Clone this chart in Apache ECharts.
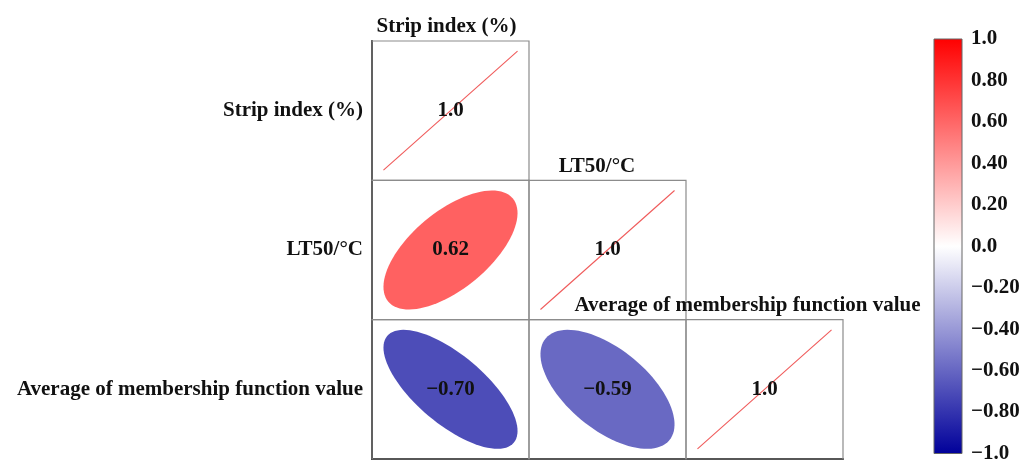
<!DOCTYPE html>
<html>
<head>
<meta charset="utf-8">
<script src="https://cdn.jsdelivr.net/npm/echarts@6/dist/echarts.min.js"></script>
<style>
html,body{margin:0;padding:0;background:#fff;}
#main{width:1026px;height:464px;}
</style>
</head>
<body>
<div id="main"></div>
<script>
// ---- data ----
var variables = ['Strip index (%)', 'LT50/°C', 'Average of membership function value'];
// lower-triangle correlations: [colIndex, rowIndex, r]
var corrCells = [
  [0, 0, 1.0],
  [0, 1, 0.62],
  [1, 1, 1.0],
  [0, 2, -0.70],
  [1, 2, -0.59],
  [2, 2, 1.0]
];
var cbTickLabels = ['\u22121.0', '\u22120.80', '\u22120.60', '\u22120.40', '\u22120.20', '0.0', '0.20', '0.40', '0.60', '0.80', '1.0'];
var cmapColors = ['#00009a', '#ffffff', '#ff0000']; // at -1, 0, 1

// ---- helpers ----
function hexToRgb(h) {
  return [parseInt(h.substr(1, 2), 16), parseInt(h.substr(3, 2), 16), parseInt(h.substr(5, 2), 16)];
}
function colorOf(r) {
  var a, b, t;
  if (r < 0) { a = hexToRgb(cmapColors[0]); b = hexToRgb(cmapColors[1]); t = r + 1; }
  else { a = hexToRgb(cmapColors[1]); b = hexToRgb(cmapColors[2]); t = r; }
  var c = [0, 1, 2].map(function (k) { return Math.round(a[k] + (b[k] - a[k]) * t); });
  return 'rgb(' + c.join(',') + ')';
}
function fmtVal(r) {
  var s = (Math.abs(r) === 1) ? Math.abs(r).toFixed(1) : Math.abs(r).toFixed(2);
  return (r < 0 ? '\u2212' : '') + s;
}

var FONT = 'Liberation Serif';
var FS = 21;
var chart = echarts.init(document.getElementById('main'));

var option = {
  backgroundColor: '#ffffff',
  animation: false,
  textStyle: { fontFamily: FONT, fontWeight: 'bold' },
  grid: [
    { left: 372, right: 183, top: 41, bottom: 5 },
    { left: 934, width: 28, top: 39, bottom: 7 }
  ],
  xAxis: [
    {
      gridIndex: 0, type: 'category', data: variables,
      axisLine: { show: true, lineStyle: { color: '#222', width: 2 } },
      axisTick: { show: false }, axisLabel: { show: false }, splitLine: { show: false }
    },
    { gridIndex: 1, type: 'value', min: 0, max: 1, show: false }
  ],
  yAxis: [
    {
      gridIndex: 0, type: 'category', data: variables, inverse: true,
      axisLine: { show: true, lineStyle: { color: '#222', width: 2 } },
      axisTick: { show: false },
      axisLabel: { show: true, margin: 9, color: '#111', fontFamily: FONT, fontWeight: 'bold', fontSize: FS },
      splitLine: { show: false }
    },
    {
      gridIndex: 1, type: 'value', min: -1, max: 1, interval: 0.2, position: 'right',
      axisLine: { show: false },
      axisTick: { show: true, inside: false, length: 5, lineStyle: { color: '#777', width: 1 } },
      axisLabel: {
        margin: 9, color: '#111', fontFamily: FONT, fontWeight: 'bold', fontSize: FS,
        formatter: function (v) { return cbTickLabels[Math.round((v + 1) / 0.2)]; }
      },
      splitLine: { show: false }
    }
  ],
  series: [
    {
      type: 'custom',
      xAxisIndex: 0, yAxisIndex: 0,
      data: corrCells,
      renderItem: function (params, api) {
        var ci = api.value(0), ri = api.value(1), r = api.value(2);
        var c = api.coord([ci, ri]);
        var sz = api.size([1, 1]);
        var w = sz[0], h = sz[1];
        var children = [];
        children.push({
          type: 'rect',
          shape: { x: c[0] - w / 2, y: c[1] - h / 2, width: w, height: h },
          style: { fill: 'none', stroke: '#8c8c8c', lineWidth: 1.2 }
        });
        var k = 0.427;
        if (ci === ri) {
          children.push({
            type: 'line',
            shape: { x1: c[0] - k * w, y1: c[1] + k * h, x2: c[0] + k * w, y2: c[1] - k * h },
            style: { stroke: '#f05a5a', lineWidth: 1.1 }
          });
          // top label for this variable
          children.push({
            type: 'text',
            style: {
              x: c[0] - 4 - 6.5 * ci, y: c[1] - h / 2 - 14,
              text: variables[ci], fill: '#111',
              font: 'bold ' + FS + 'px "' + FONT + '"', align: 'center', verticalAlign: 'middle'
            }
          });
        } else {
          var a = k * Math.sqrt(1 + Math.abs(r));
          var b = k * Math.sqrt(1 - Math.abs(r));
          var phi = (r > 0 ? 1 : -1) * Math.PI / 4;
          var pts = [];
          for (var i = 0; i < 96; i++) {
            var th = 2 * Math.PI * i / 96;
            var p = a * Math.cos(th), q = b * Math.sin(th);
            var u = p * Math.cos(phi) - q * Math.sin(phi);
            var v = p * Math.sin(phi) + q * Math.cos(phi);
            pts.push([c[0] + u * w, c[1] - v * h]);
          }
          children.push({
            type: 'polygon',
            shape: { points: pts, smooth: 0 },
            style: { fill: colorOf(r), stroke: 'none' }
          });
        }
        children.push({
          type: 'text',
          style: {
            x: c[0], y: c[1], text: fmtVal(r), fill: '#111',
            font: 'bold ' + FS + 'px "' + FONT + '"', align: 'center', verticalAlign: 'middle'
          }
        });
        return { type: 'group', children: children };
      },
      z: 1
    },
    {
      type: 'custom',
      xAxisIndex: 1, yAxisIndex: 1,
      data: [[0, -1, 1, 1]],
      renderItem: function (params, api) {
        var p0 = api.coord([api.value(0), api.value(1)]);
        var p1 = api.coord([api.value(2), api.value(3)]);
        return {
          type: 'rect',
          shape: { x: p0[0], y: p1[1], width: p1[0] - p0[0], height: p0[1] - p1[1] },
          style: {
            fill: new echarts.graphic.LinearGradient(0, 0, 0, 1, [
              { offset: 0, color: cmapColors[2] },
              { offset: 0.5, color: cmapColors[1] },
              { offset: 1, color: cmapColors[0] }
            ]),
            stroke: '#666', lineWidth: 1
          }
        };
      }
    }
  ]
};
chart.setOption(option);
</script>
</body>
</html>
